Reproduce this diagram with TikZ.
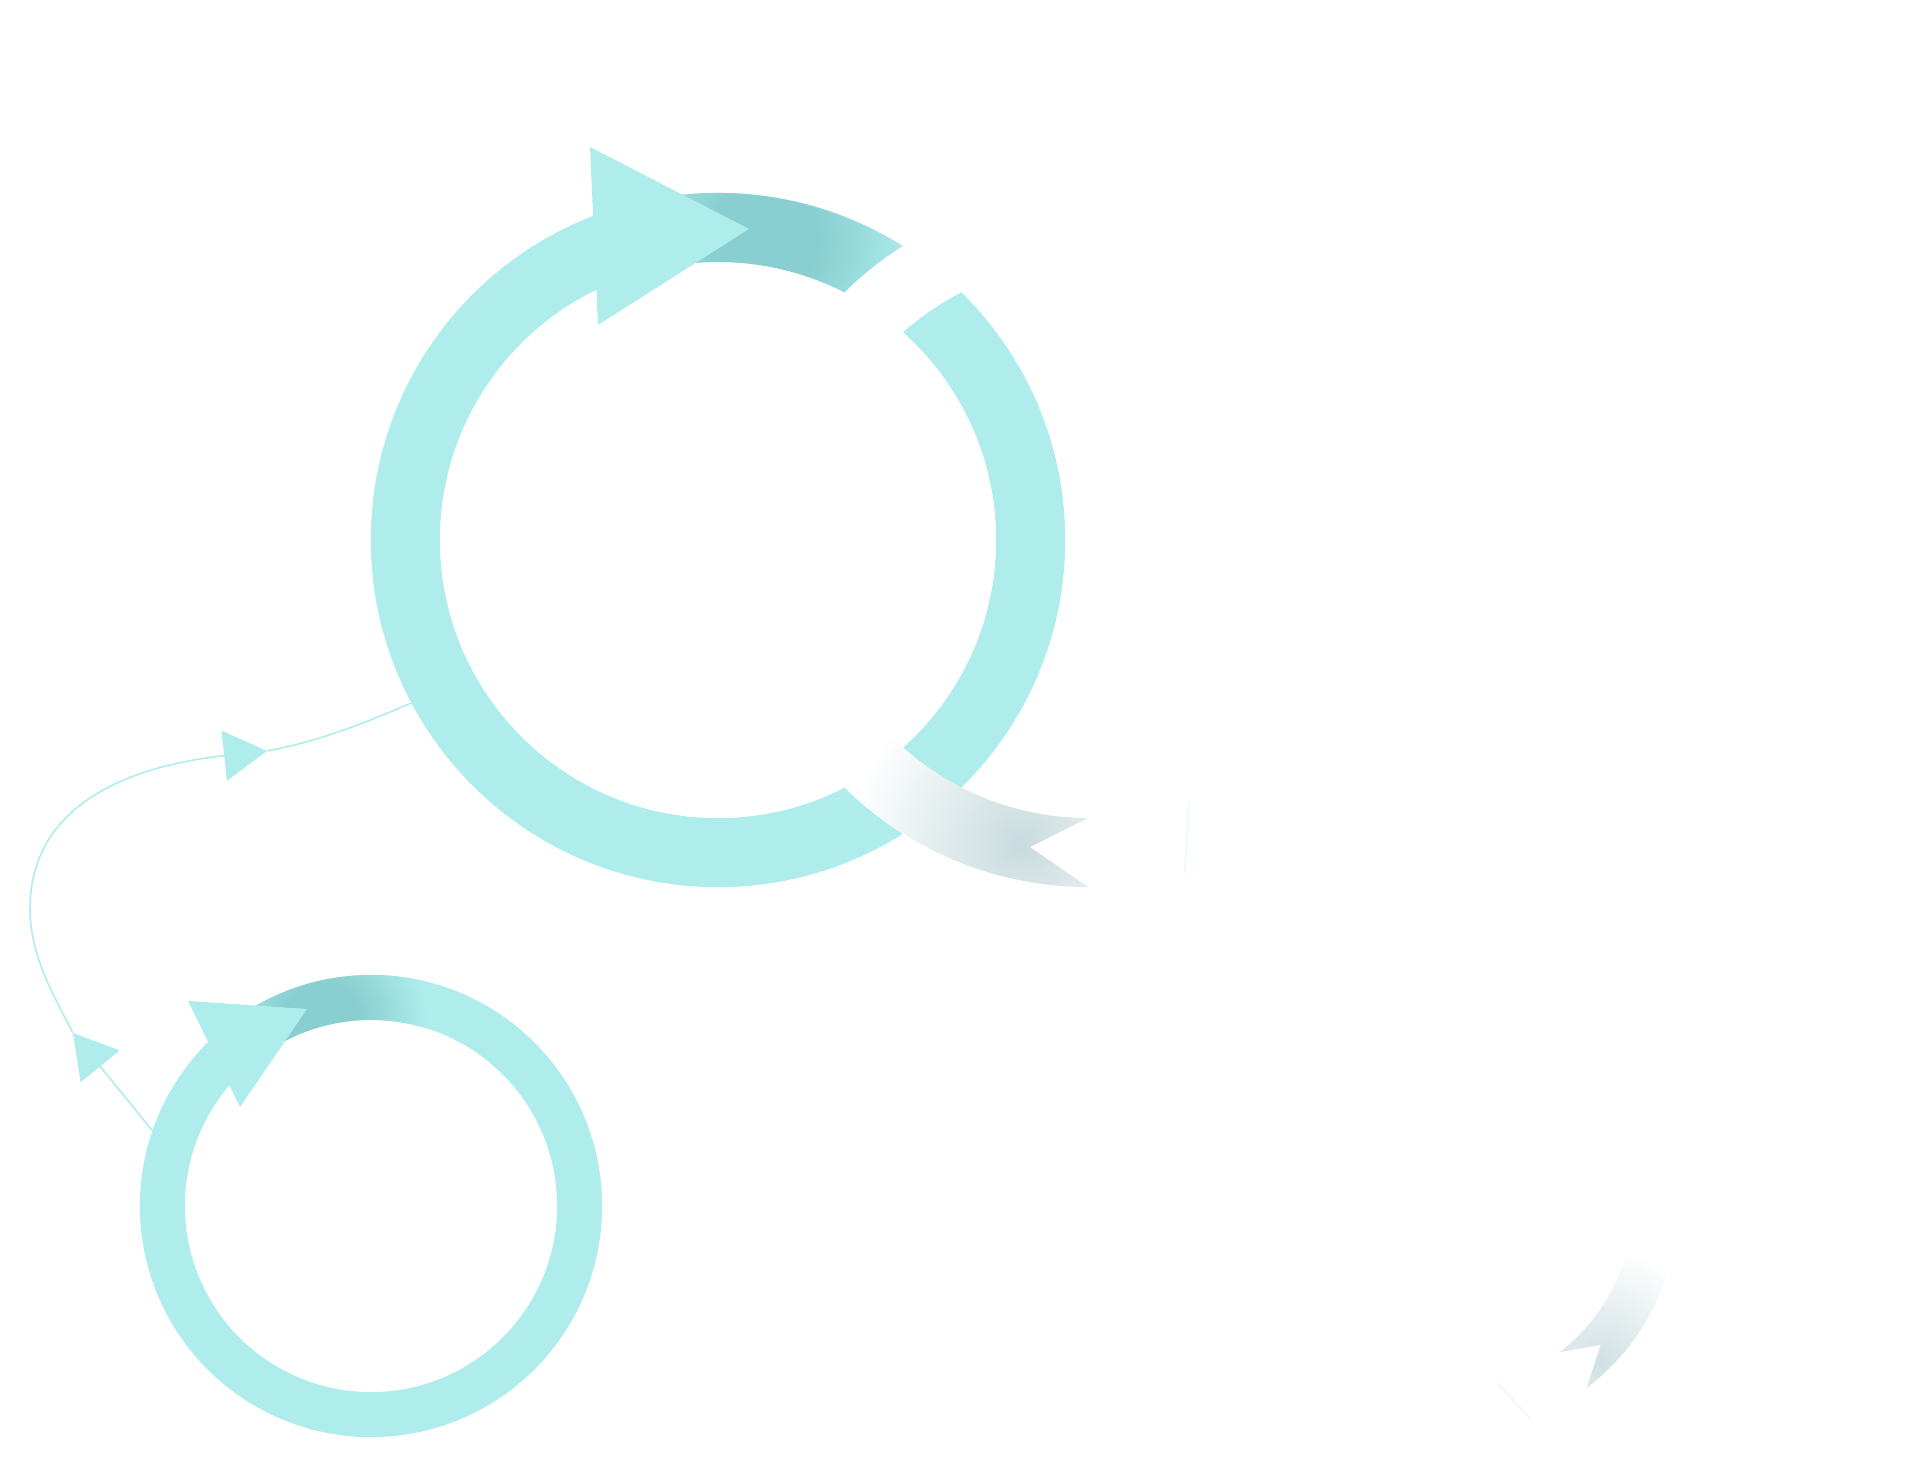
\documentclass[tikz,border=0pt]{standalone}
\usepackage{tikz}
\usetikzlibrary{arrows.meta,calc}
\definecolor{ringteal}{RGB}{175,237,237}
\definecolor{ringdeep}{RGB}{137,206,208}
\definecolor{tailgrey}{RGB}{200,219,222}
\pgfdeclareradialshading{deepglow}{\pgfpoint{0bp}{0bp}}{color(0bp)=(ringdeep); color(9bp)=(ringdeep); color(25bp)=(ringteal); color(50bp)=(ringteal)}
\tikzset{
  flow/ring/.style={circle, draw=ringteal, inner sep=0pt},
  flow/big/.style={flow/ring, minimum size=6.25cm, line width=6.9mm, outer sep=3.45mm},
  flow/small/.style={flow/ring, minimum size=4.17cm, line width=4.5mm, outer sep=2.25mm},
  flow/ghost/.style={draw=white},
  flow/head/.style={fill=ringteal},
  flow/link/.style={draw=ringteal, line width=0.45pt},
  flow/tip/.style={-{Triangle[length=4.3mm, width=5mm]}},
  flow/seam/.style={line width=0.5pt}
}

\begin{document}
\begin{tikzpicture}[x=0.01cm, y=0.01cm]
  \useasboundingbox (0,0) rectangle (1928,1474);

  % the two visible rings
  \node[flow/big] (cycle-big) at (718,934) {};
  \node[flow/small] (cycle-small) at (371,268) {};

  % darker band just past each head
  \begin{scope}
    \clip ($(cycle-big.center)+(135:347)$) arc[start angle=135, end angle=20, radius=347]
      -- ($(cycle-big.center)+(20:278)$) arc[start angle=20, end angle=135, radius=278] -- cycle;
    \shade[shading=deepglow] (765,1236) circle (150);
  \end{scope}
  \begin{scope}
    \clip ($(cycle-small.center)+(150:231)$) arc[start angle=150, end angle=40, radius=231]
      -- ($(cycle-small.center)+(40:186)$) arc[start angle=40, end angle=150, radius=186] -- cycle;
    \shade[shading=deepglow] (322,454) circle (105);
  \end{scope}

  % heads
  \fill[flow/head] (590,1327) -- (749,1245) -- (598,1149) -- cycle;
  \fill[flow/head] (188,473) -- (307,465) -- (240,367) -- cycle;

  % white rings
  \node[flow/big, flow/ghost] (cycle-ghost) at ($(cycle-big.center)+(370,0)$) {};
  \node[flow/small, flow/ghost] (cycle-ghost-small) at (1447,270) {};

  % grey tails
  \begin{scope}
    \clip ($(cycle-ghost.center)+(270:347)$) -- ($(cycle-ghost.center)+(259.3:312.5)$)
      -- ($(cycle-ghost.center)+(270:278)$) arc[start angle=270, end angle=200, radius=278]
      -- ($(cycle-ghost.center)+(200:347)$) arc[start angle=200, end angle=270, radius=347] -- cycle;
    \shade[inner color=tailgrey, outer color=white] (1020,630) circle (170);
  \end{scope}
  \begin{scope}
    \clip ($(cycle-ghost-small.center)+(-52.8:231)$) -- ($(cycle-ghost-small.center)+(-42.5:208.5)$)
      -- ($(cycle-ghost-small.center)+(-52.8:186)$) arc[start angle=-52.8, end angle=0, radius=186]
      -- ($(cycle-ghost-small.center)+(0:231)$) arc[start angle=0, end angle=-52.8, radius=231] -- cycle;
    \shade[inner color=tailgrey!85!white, outer color=white] (1600,112) circle (115);
  \end{scope}
  \draw[flow/seam, ringteal!20] ($(cycle-ghost.center)+(-68.8:279)$) -- ($(cycle-ghost.center)+(-73.8:347)$);
  \draw[flow/seam, black!4] ($(cycle-ghost-small.center)+(-74.4:186)$) -- ($(cycle-ghost-small.center)+(-68.8:229.5)$);

  % link from the small ring to the big one
  \coordinate (link-low) at (73,441);
  \coordinate (link-bend) at (30,565);
  \coordinate (link-high) at (267,723);
  \draw[flow/link, flow/tip] (cycle-small.161) -- (link-low);
  \draw[flow/link, flow/tip] (link-low) .. controls (52,481) and (30,520) .. (link-bend)
    .. controls (30,670) and (130,708) .. (link-high);
  \draw[flow/link] (link-high) .. controls (321,733) and (367,752) .. (cycle-big.208);
\end{tikzpicture}
\end{document}
